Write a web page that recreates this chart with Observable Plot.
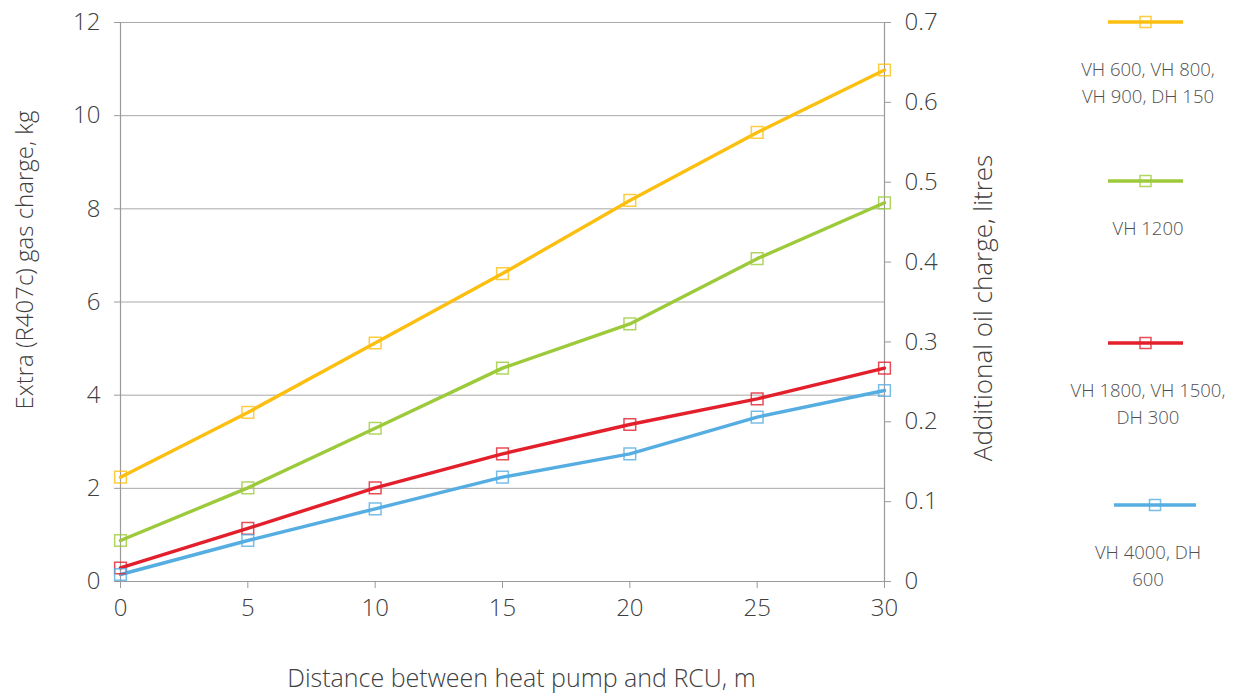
<!DOCTYPE html>
<html>
<head>
<meta charset="utf-8">
<script src="https://cdn.jsdelivr.net/npm/d3@7"></script>
<script src="https://cdn.jsdelivr.net/npm/@observablehq/plot@0.6"></script>
<style>
  html, body { margin: 0; padding: 0; background: #fff; }
  body { width: 1236px; height: 695px; position: relative; overflow: hidden; font-family: "Open Sans", "Noto Sans", sans-serif; color: #404040; }
  #chart { position: absolute; left: 0; top: 0; }
  #legend { position: absolute; left: 1060px; top: 0; width: 176px; }
  .item { position: absolute; left: 0; width: 176px; text-align: center; }
  .item svg { display: block; }
  .item .lbl { font-size: 18.5px; line-height: 27px; font-weight: 300; color: #505050; white-space: nowrap; }
</style>
</head>
<body>
<div id="chart"></div>
<div id="legend"></div>
<script>
// ---- data ----
const distance = [0, 5, 10, 15, 20, 25, 30];
const seriesNames = ["VH 600, VH 800, VH 900, DH 150", "VH 1200", "VH 1800, VH 1500, DH 300", "VH 4000, DH 600"];
const legendLines = [["VH 600, VH 800,", "VH 900, DH 150"], ["VH 1200"], ["VH 1800, VH 1500,", "DH 300"], ["VH 4000, DH", "600"]];
const seriesColors = ["#fcbf10", "#9cca3a", "#e31f2c", "#55ade2"];
const chargeVH600 = [2.24, 3.63, 5.12, 6.61, 8.18, 9.64, 10.98];
const chargeVH1200 = [0.88, 2.01, 3.29, 4.58, 5.53, 6.93, 8.13];
const chargeVH1800 = [0.29, 1.14, 2.01, 2.74, 3.37, 3.92, 4.58];
const chargeVH4000 = [0.15, 0.88, 1.56, 2.24, 2.74, 3.53, 4.10];
const leftTicks = [0, 2, 4, 6, 8, 10, 12];
const rightTicks = [0, 0.1, 0.2, 0.3, 0.4, 0.5, 0.6, 0.7];
const xTicks = [0, 5, 10, 15, 20, 25, 30];
const leftMax = 12, rightMax = 0.7;

const allSeries = [chargeVH600, chargeVH1200, chargeVH1800, chargeVH4000];
const data = seriesNames.flatMap((s, i) => distance.map((d, j) => ({series: s, x: d, y: allSeries[i][j]})));

const axisColor = "#9a9a9a";
const textColor = "#404040";
const font = "Open Sans";

const chart = Plot.plot({
  width: 1236,
  height: 695,
  marginLeft: 120,
  marginRight: 352,
  marginTop: 22,
  marginBottom: 114,
  style: {fontFamily: font, color: textColor, background: "transparent"},
  x: {domain: [0, 30]},
  y: {domain: [0, leftMax]},
  color: {domain: seriesNames, range: seriesColors},
  marks: [
    Plot.gridY(leftTicks, {stroke: "#a8a8a8", strokeOpacity: 1, strokeWidth: 1}),
    Plot.ruleX([0, 30], {stroke: axisColor, strokeWidth: 1.2}),
    Plot.ruleY([0], {stroke: axisColor, strokeWidth: 1.2}),
    Plot.axisY(leftTicks, {anchor: "left", tickSize: 6, tickPadding: 14, fontSize: 24, label: null, stroke: axisColor, fill: textColor, fontWeight: 300}),
    Plot.axisY(rightTicks.map(v => v * leftMax / rightMax), {anchor: "right", tickSize: 6, tickPadding: 14, fontSize: 24, label: null, stroke: axisColor, fill: textColor, fontWeight: 300,
      tickFormat: d => String(+(d * rightMax / leftMax).toFixed(1))}),
    Plot.axisX(xTicks, {anchor: "bottom", tickSize: 7, tickPadding: 10, fontSize: 24, label: null, stroke: axisColor, fill: textColor, fontWeight: 300}),
    Plot.text(["Extra (R407c) gas charge, kg"], {frameAnchor: "left", rotate: -90, textAnchor: "middle", lineAnchor: "middle", dx: -95, dy: -42, fontSize: 24, fill: textColor, fontWeight: 300}),
    Plot.text(["Additional oil charge, litres"], {frameAnchor: "right", rotate: -90, textAnchor: "middle", lineAnchor: "middle", dx: 99, dy: 6, fontSize: 26, fill: textColor, fontWeight: 300}),
    Plot.text(["Distance between heat pump and RCU, m"], {frameAnchor: "bottom", textAnchor: "middle", lineAnchor: "middle", dy: 97, dx: 19, fontSize: 25, fill: textColor, fontWeight: 300}),
    Plot.line(data, {x: "x", y: "y", z: "series", stroke: "series", strokeWidth: 3.4}),
    Plot.dot(data, {x: "x", y: "y", stroke: "series", symbol: "square", r: 6.6, fill: "none", strokeWidth: 1.5, strokeOpacity: 0.8})
  ]
});
document.getElementById("chart").appendChild(chart);

// ---- legend ----
const legendTops = [10, 169, 331, 493];
const legendLineX = [[48, 123], [48, 123], [48, 123], [54, 136]];
const legend = document.getElementById("legend");
seriesNames.forEach((s, i) => {
  const item = document.createElement("div");
  item.className = "item";
  item.style.top = legendTops[i] + "px";
  const [x1, x2] = legendLineX[i];
  const mid = (x1 + x2) / 2;
  item.innerHTML = `<svg width="176" height="24"><line x1="${x1}" x2="${x2}" y1="12" y2="12" stroke="${seriesColors[i]}" stroke-width="3.4"/><rect x="${mid - 5.5}" y="6.5" width="11" height="11" fill="none" stroke="${seriesColors[i]}" stroke-opacity="0.8" stroke-width="1.5"/></svg>` +
    `<div class="lbl" style="margin-top:21px">${legendLines[i].join("<br>")}</div>`;
  legend.appendChild(item);
});
</script>
</body>
</html>
